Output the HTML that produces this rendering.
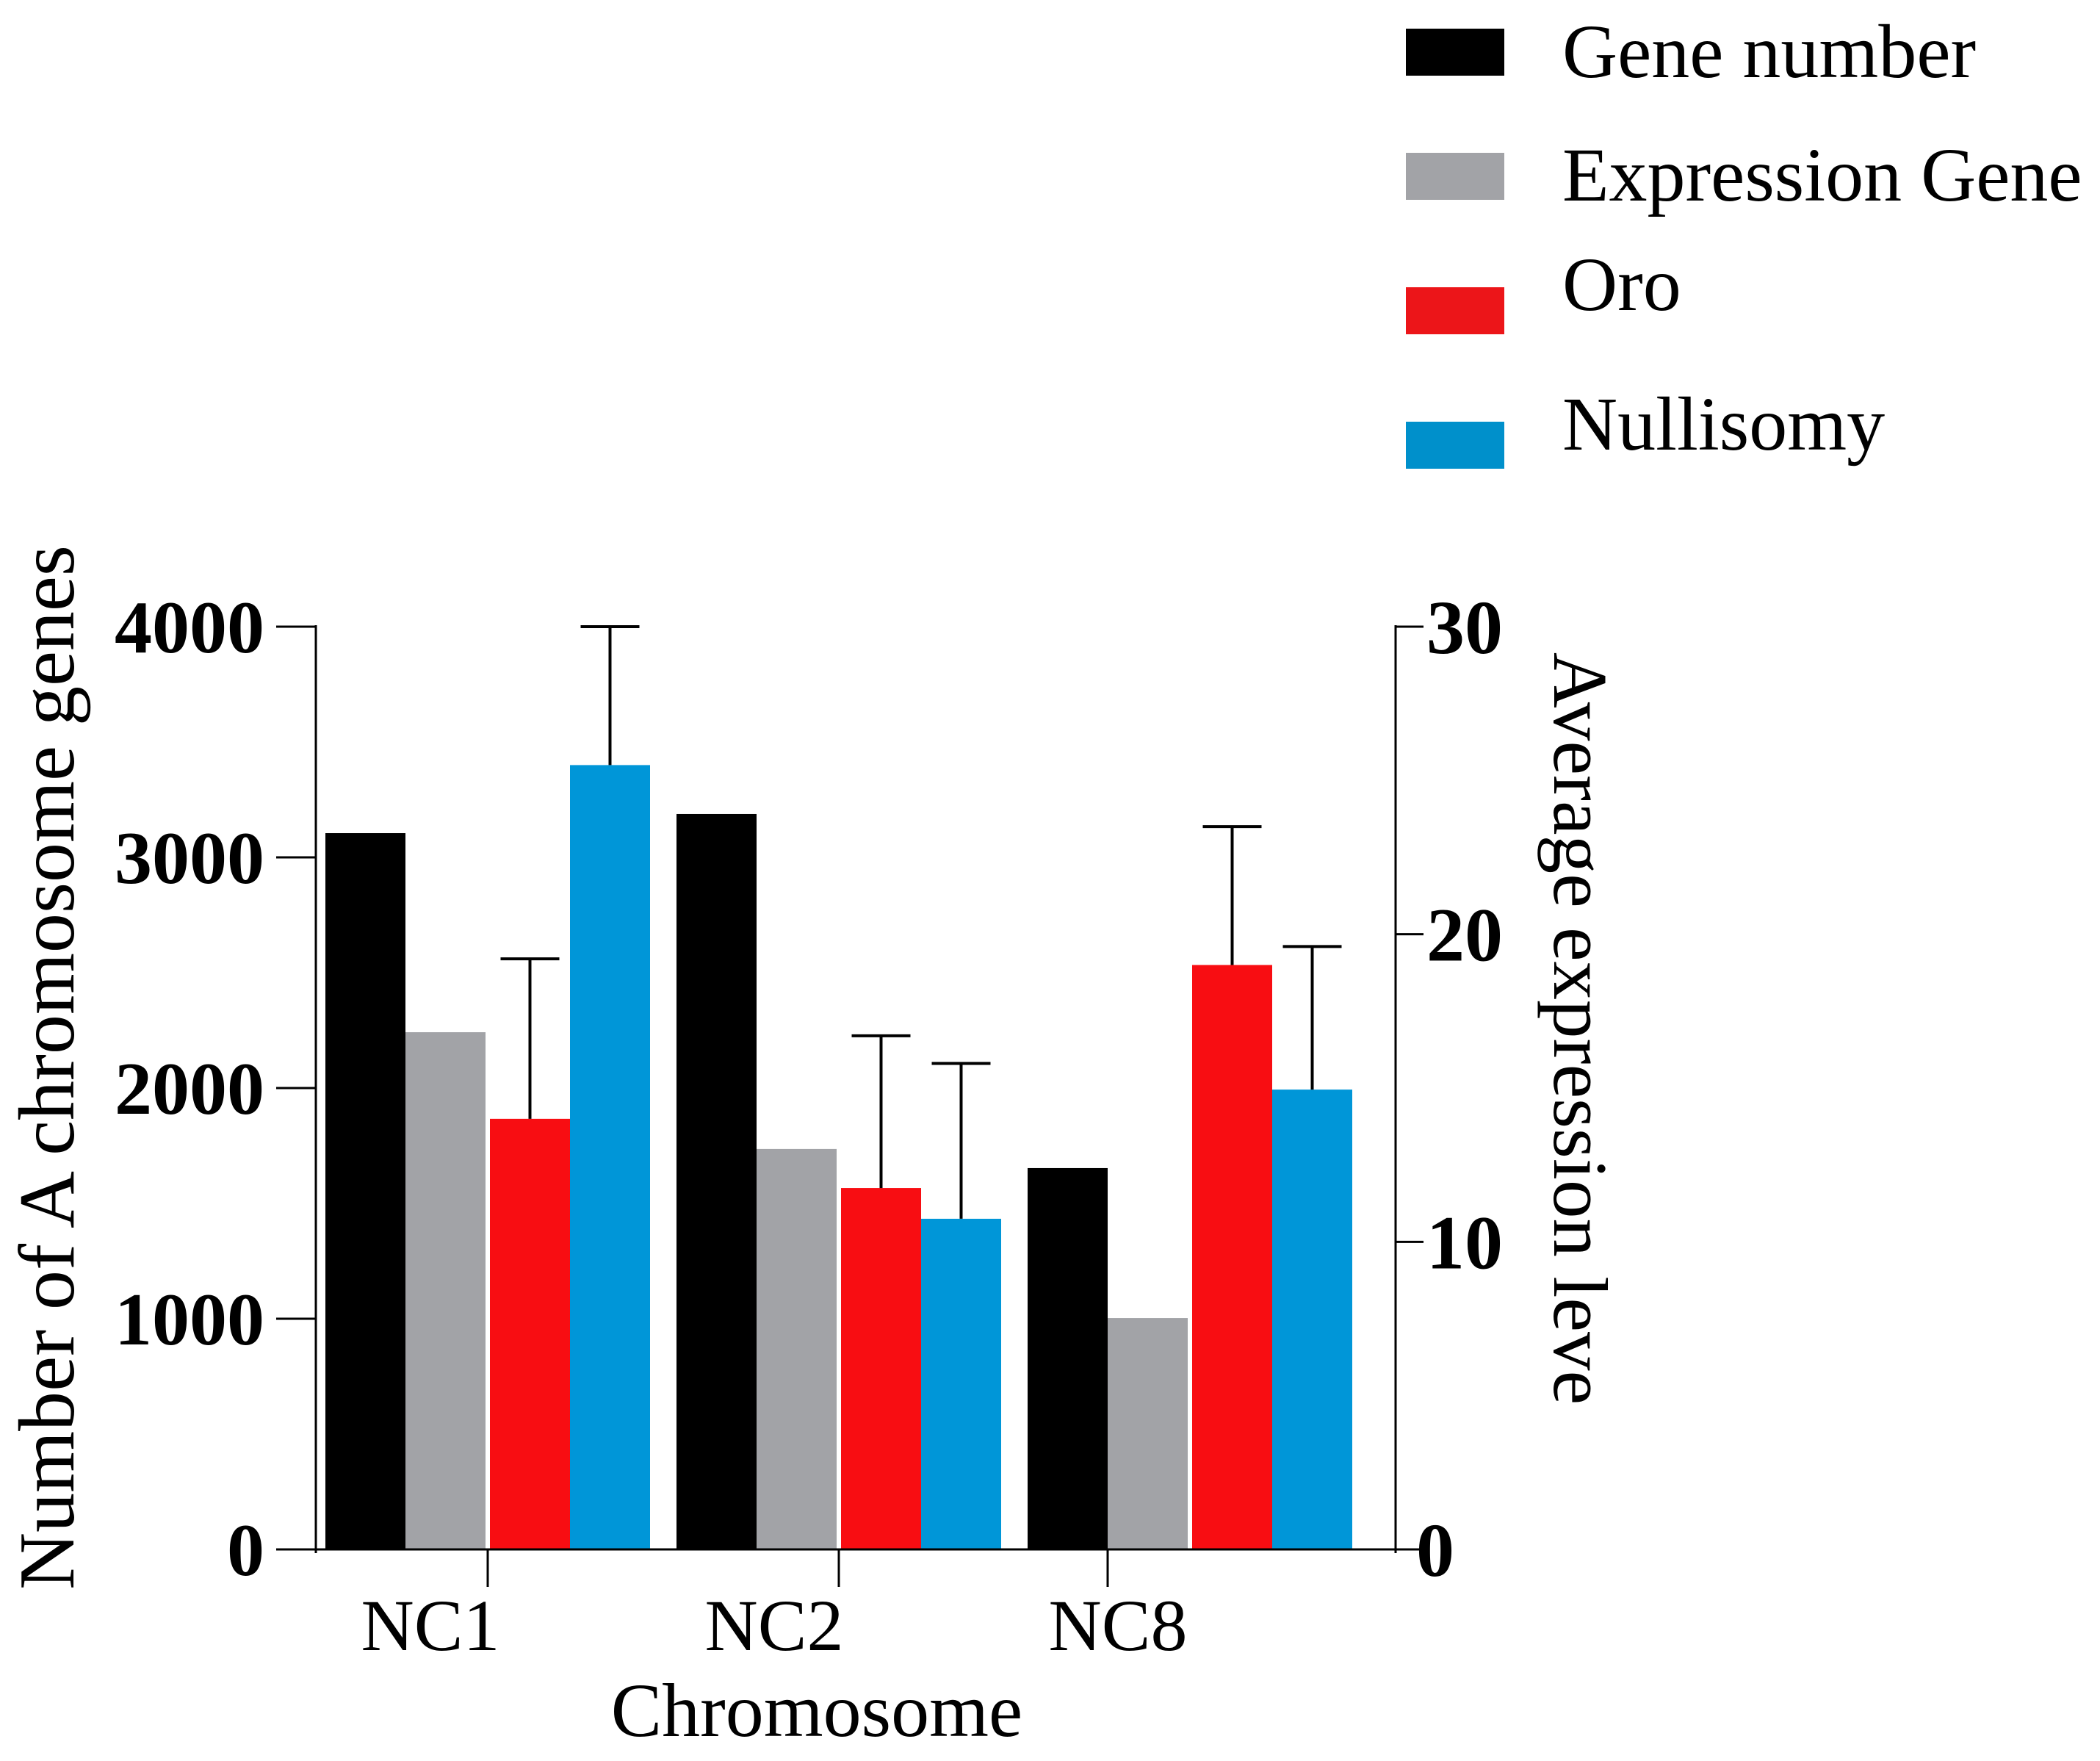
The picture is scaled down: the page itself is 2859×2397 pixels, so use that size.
<!DOCTYPE html>
<html><head><meta charset="utf-8"><style>
html,body{margin:0;padding:0;background:#fff}
svg{display:block}
text{font-family:"Liberation Serif",serif;fill:#000}
</style></head><body>
<svg id="chart" width="2859" height="2397" viewBox="0 0 2859 2397" xmlns="http://www.w3.org/2000/svg">
<g id="legend">
 <g><rect x="1914" y="39" width="134" height="64" fill="#000"/><text x="2127" y="105" font-size="104">Gene number</text></g>
 <g><rect x="1914" y="208" width="134" height="64" fill="#a2a3a7"/><text x="2127" y="273" font-size="104">Expression Gene</text></g>
 <g><rect x="1914" y="391" width="134" height="64" fill="#ec1519"/><text x="2127" y="422" font-size="104">Oro</text></g>
 <g><rect x="1914" y="574" width="134" height="64" fill="#0090cb"/><text x="2127" y="612" font-size="104">Nullisomy</text></g>
</g>
<g id="bars"></g>
<g id="axes"></g>
<text transform="translate(100,1453) rotate(-90)" text-anchor="middle" font-size="108">Number of  A chromosome genes</text>
<text transform="translate(2116,1400) rotate(90)" text-anchor="middle" font-size="105">Average expression leve</text>
<text x="1112" y="2363" text-anchor="middle" font-size="104">Chromosome</text>
</svg>
<script>
const categories = ["NC1", "NC2", "NC8"];
const geneNumber = [3105, 3188, 1653];
const expressionGene = [2242, 1736, 1003];
const oro = [14.0, 11.75, 19.0];
const oroErr = [5.2, 4.95, 4.5];
const nullisomy = [25.5, 10.75, 14.95];
const nullisomyErr = [4.5, 5.05, 4.65];
const leftTicks = [0, 1000, 2000, 3000, 4000];
const rightTicks = [0, 10, 20, 30];

const NS = "http://www.w3.org/2000/svg";
const y0 = 2109, yTop = 853, axL = 430, axR = 1900;
const yL = v => y0 - v / 4000 * (y0 - yTop);
const yR = v => y0 - v / 30 * (y0 - yTop);
const groupX = i => 443 + i * 478;
const bw = 109;
function mk(tag, attrs, parent) { const e = document.createElementNS(NS, tag); for (const k in attrs) e.setAttribute(k, attrs[k]); parent.appendChild(e); return e; }
const bars = document.getElementById('bars');
const axes = document.getElementById('axes');
const series = [
  {name: 'gene-number', vals: geneNumber, sc: yL, color: '#000', off: 0},
  {name: 'expression-gene', vals: expressionGene, sc: yL, color: '#a2a3a7', off: bw},
  {name: 'oro', vals: oro, sc: yR, color: '#f80d12', off: 2 * bw + 6, err: oroErr},
  {name: 'nullisomy', vals: nullisomy, sc: yR, color: '#0096d8', off: 3 * bw + 6, err: nullisomyErr}
];
categories.forEach((c, i) => {
  series.forEach(s => {
    const x = groupX(i) + s.off, yv = s.sc(s.vals[i]);
    const r = mk('rect', {x: x, y: yv, width: bw, height: y0 - yv, fill: s.color}, bars);
    
    
    if (s.err) {
      const ye = s.sc(s.vals[i] + s.err[i]), cx = x + bw / 2;
      const g = mk('g', {stroke: '#000', 'stroke-width': 4}, bars);
      
      
      mk('line', {x1: cx, x2: cx, y1: yv, y2: ye}, g);
      mk('line', {x1: cx - 40, x2: cx + 40, y1: ye, y2: ye}, g);
    }
  });
  const tx = groupX(i) + (i === 2 ? bw : 2 * bw + 3);
  const t = mk('line', {x1: tx, x2: tx, y1: y0, y2: 2160, stroke: '#000', 'stroke-width': 3}, axes);
  
  
  const lb = mk('text', {x: groupX(i) + 143 - i * 10, y: 2246, 'text-anchor': 'middle', 'font-size': 100}, axes);
  lb.textContent = c;
  
  
});
let l = mk('line', {x1: axL, x2: axL, y1: yTop - 2, y2: y0 + 5, stroke: '#000', 'stroke-width': 3}, axes);


l = mk('line', {x1: axR, x2: axR, y1: yTop - 2, y2: y0 + 5, stroke: '#000', 'stroke-width': 3}, axes);


l = mk('line', {x1: axL, x2: axR, y1: y0, y2: y0, stroke: '#000', 'stroke-width': 3}, axes);


leftTicks.forEach(v => {
  const y = yL(v);
  const t = mk('line', {x1: 376, x2: axL, y1: y, y2: y, stroke: '#000', 'stroke-width': 3}, axes);
  
  
  const tx = mk('text', {x: 360, y: y + 35, 'text-anchor': 'end', 'font-size': 102, 'font-weight': 'bold'}, axes);
  tx.textContent = v;
  
  
});
rightTicks.forEach(v => {
  const y = yR(v);
  const t = mk('line', {x1: axR, x2: 1938, y1: y, y2: y, stroke: '#000', 'stroke-width': 3}, axes);
  
  
  const tx = mk('text', {x: 1928 + (v === 0 ? 0 : 14), y: y + 36, 'text-anchor': 'start', 'font-size': 104, 'font-weight': 'bold'}, axes);
  tx.textContent = v;
  
  
});
</script>
</body></html>
